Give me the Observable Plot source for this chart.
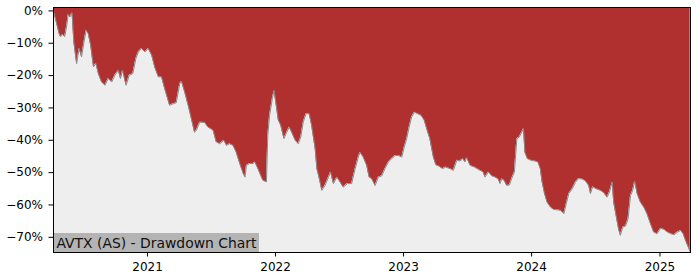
<!DOCTYPE html>
<html><head><meta charset="utf-8">
<script src="https://cdn.jsdelivr.net/npm/d3@7"></script>
<script src="https://cdn.jsdelivr.net/npm/@observablehq/plot@0.6"></script>
<style>body{margin:0;background:#fff} #chart{width:700px;height:280px}</style>
</head><body><div id="chart"></div>
<script>
const dates = [
"2020-04-08","2020-04-17","2020-04-24","2020-04-28","2020-05-04","2020-05-10","2020-05-16","2020-05-20","2020-05-25","2020-05-31",
"2020-06-05","2020-06-13","2020-06-20","2020-06-27","2020-07-04","2020-07-10","2020-07-16","2020-07-23","2020-07-31","2020-08-07",
"2020-08-14","2020-08-23","2020-09-02","2020-09-11","2020-09-21","2020-09-30","2020-10-10","2020-10-16","2020-10-22","2020-11-01",
"2020-11-10","2020-11-20","2020-11-29","2020-12-06","2020-12-15","2020-12-25","2021-01-03","2021-01-13","2021-01-22","2021-02-01",
"2021-02-10","2021-02-19","2021-03-05","2021-03-15","2021-03-24","2021-04-03","2021-04-08","2021-04-17","2021-04-27","2021-05-06",
"2021-05-15","2021-05-20","2021-05-30","2021-06-13","2021-06-22","2021-07-07","2021-07-16","2021-07-26","2021-08-07","2021-08-14",
"2021-08-23","2021-09-02","2021-09-11","2021-09-21","2021-10-01","2021-10-06","2021-10-10","2021-10-19","2021-10-29","2021-11-03",
"2021-11-12","2021-11-22","2021-11-26","2021-12-06","2021-12-10","2021-12-15","2021-12-23","2021-12-28","2022-01-03","2022-01-09",
"2022-01-16","2022-01-25","2022-02-02","2022-02-09","2022-02-16","2022-02-26","2022-03-07","2022-03-14","2022-03-21","2022-03-29",
"2022-04-07","2022-04-14","2022-04-24","2022-04-29","2022-05-06","2022-05-13","2022-05-22","2022-06-01","2022-06-07","2022-06-15",
"2022-06-25","2022-07-04","2022-07-13","2022-07-25","2022-08-06","2022-08-16","2022-08-25","2022-08-30","2022-09-08","2022-09-18",
"2022-09-25","2022-10-02","2022-10-12","2022-10-21","2022-10-31","2022-11-09","2022-11-19","2022-11-28","2022-12-08","2022-12-17",
"2022-12-27","2023-01-03","2023-01-10","2023-01-17","2023-01-24","2023-02-01","2023-02-10","2023-02-20","2023-03-01","2023-03-11",
"2023-03-17","2023-03-27","2023-04-03","2023-04-12","2023-04-22","2023-05-01","2023-05-14","2023-05-23","2023-06-02","2023-06-11",
"2023-06-19","2023-06-25","2023-06-30","2023-07-10","2023-07-22","2023-08-07","2023-08-16","2023-08-21","2023-08-31","2023-09-09",
"2023-09-19","2023-09-28","2023-10-03","2023-10-08","2023-10-15","2023-10-22","2023-10-30","2023-11-05","2023-11-13","2023-11-20",
"2023-11-27","2023-12-04","2023-12-09","2023-12-13","2023-12-20","2023-12-30","2024-01-09","2024-01-19","2024-01-26","2024-01-31",
"2024-02-07","2024-02-14","2024-02-24","2024-03-04","2024-03-14","2024-03-24","2024-04-02","2024-04-09","2024-04-16","2024-04-26",
"2024-05-05","2024-05-14","2024-05-24","2024-06-02","2024-06-12","2024-06-17","2024-06-23","2024-07-03","2024-07-15","2024-07-25",
"2024-08-03","2024-08-10","2024-08-18","2024-08-22","2024-08-29","2024-09-05","2024-09-10","2024-09-17","2024-09-25","2024-10-02",
"2024-10-09","2024-10-15","2024-10-21","2024-10-28","2024-11-06","2024-11-16","2024-11-25","2024-12-05","2024-12-14","2024-12-24",
"2025-01-03","2025-01-13","2025-01-22","2025-02-01","2025-02-10","2025-02-20","2025-03-01","2025-03-08","2025-03-15","2025-03-25",
"2025-03-28"
];
const drawdown = [
0,-3.9,-7,-8,-7.3,-8,-4.4,-1.1,-1.9,-0.6,
-9.6,-16.3,-11.6,-14.2,-9.6,-6,-7,-10.6,-17.3,-16.3,
-19.4,-22,-23,-20.9,-22,-19.9,-18.4,-20.9,-18.4,-23,
-19.9,-19.4,-14.7,-12.7,-11.6,-12.7,-11.6,-13.7,-17.5,-20.4,
-20.4,-24,-29.2,-28.7,-28.4,-22.5,-21.8,-25.1,-29.2,-33.3,
-37.5,-37,-34.4,-34.5,-35.9,-36.9,-40.5,-41.1,-40,-41.6,
-41.1,-41.6,-43.7,-47.2,-50.3,-51.4,-47.8,-47.2,-47.2,-46.7,
-48.8,-51.4,-52.4,-52.9,-38.5,-32.3,-27.1,-24.6,-29.2,-33.8,
-35.4,-39.5,-37.5,-35.9,-37.5,-40,-41.1,-39,-34.4,-31.8,
-31.8,-35.4,-42.6,-48.8,-51.9,-55.5,-54,-51.4,-49.8,-53.4,
-51.4,-52.9,-54.5,-53.4,-53.4,-48.8,-45.2,-43.7,-45.2,-47.8,
-51.4,-51.9,-54,-51.4,-51,-48.8,-46.7,-45.7,-44.7,-44.7,
-45.2,-42.1,-39.5,-35.9,-32.8,-31.3,-31.8,-32.3,-33.8,-37.5,
-39.5,-45.2,-47.6,-48,-48.8,-48.3,-48.8,-49.3,-46.2,-46.4,
-45.7,-46.7,-45.4,-47.8,-48.3,-49.3,-49.8,-51.4,-49.8,-51,
-51.4,-52,-53.4,-51.9,-52.4,-54,-53.8,-51.9,-49.8,-39.5,
-39,-37.5,-36.4,-43.7,-45.7,-46.2,-46.4,-46.7,-48.8,-52.9,
-56.5,-59.1,-60.7,-61.4,-61.5,-61.7,-62.7,-59.6,-56.5,-55,
-53,-51.8,-52,-52.5,-54,-56.5,-54.4,-55,-55.5,-56.2,
-57.6,-56,-52.9,-59.1,-63.3,-67.4,-69.4,-66.9,-66.5,-64.3,
-57.1,-55.6,-52.7,-56.5,-59.1,-60.7,-62.7,-65.8,-68.4,-68.9,
-67.2,-67.6,-68.4,-68.9,-69.2,-68.4,-67.9,-68.9,-71,-73.6,
-74.5
];
const yTicks = [0,-10,-20,-30,-40,-50,-60,-70];
const xTicks = ["2021-01-01","2022-01-01","2023-01-01","2024-01-01","2025-01-01"];
const title = "AVTX (AS) - Drawdown Chart";
const xDomain = ["2020-04-08","2025-03-29"];
const yDomain = [-74.7, 1.05];

const data = dates.map((d, i) => ({date: new Date(d), dd: drawdown[i]}));

const chart = Plot.plot({
  width: 700, height: 280,
  marginLeft: 53, marginRight: 10, marginTop: 7, marginBottom: 28,
  style: {fontFamily: "'DejaVu Sans', sans-serif", fontSize: "12px", color: "#000", background: "#fff", overflow: "visible"},
  x: {type: "utc", domain: xDomain.map(d => new Date(d)), ticks: xTicks.map(d => new Date(d)),
      tickFormat: d3.utcFormat("%Y"), tickSize: 4.5, tickPadding: 5, label: null},
  y: {domain: yDomain, ticks: yTicks, tickFormat: v => v === 0 ? "0%" : "\u2212" + Math.abs(v) + "%",
      tickSize: 4.5, tickPadding: 6, label: null},
  marks: [
    Plot.frame({fill: "#eeeeee"}),
    Plot.areaY(data, {x: "date", y1: "dd", y2: yDomain[1], fill: "#b03030"}),
    Plot.line(data, {x: "date", y: "dd", stroke: "#8a8a8a", strokeWidth: 1}),
    Plot.text([title], {frameAnchor: "bottom-left", dx: 3, dy: -9, textAnchor: "start", lineAnchor: "middle",
      fontSize: 13.9, fill: "#111", className: "ddtitle"}),
    Plot.frame({stroke: "#000", strokeWidth: 1})
  ]
});
document.getElementById("chart").appendChild(chart);
const t = chart.querySelector("g.ddtitle text");
if (t) {
  const sb = chart.getBoundingClientRect();
  const tb = t.getBoundingClientRect();
  const g = t.closest("g.ddtitle");
  const r = document.createElementNS("http://www.w3.org/2000/svg", "rect");
  const x0 = 53.5;
  r.setAttribute("x", x0);
  r.setAttribute("y", 233);
  r.setAttribute("width", (tb.right - sb.left) + 2 - x0);
  r.setAttribute("height", 252 - 233);
  r.setAttribute("fill", "#b4b4b4");
  g.parentNode.insertBefore(r, g);
}
</script>
</body></html>
